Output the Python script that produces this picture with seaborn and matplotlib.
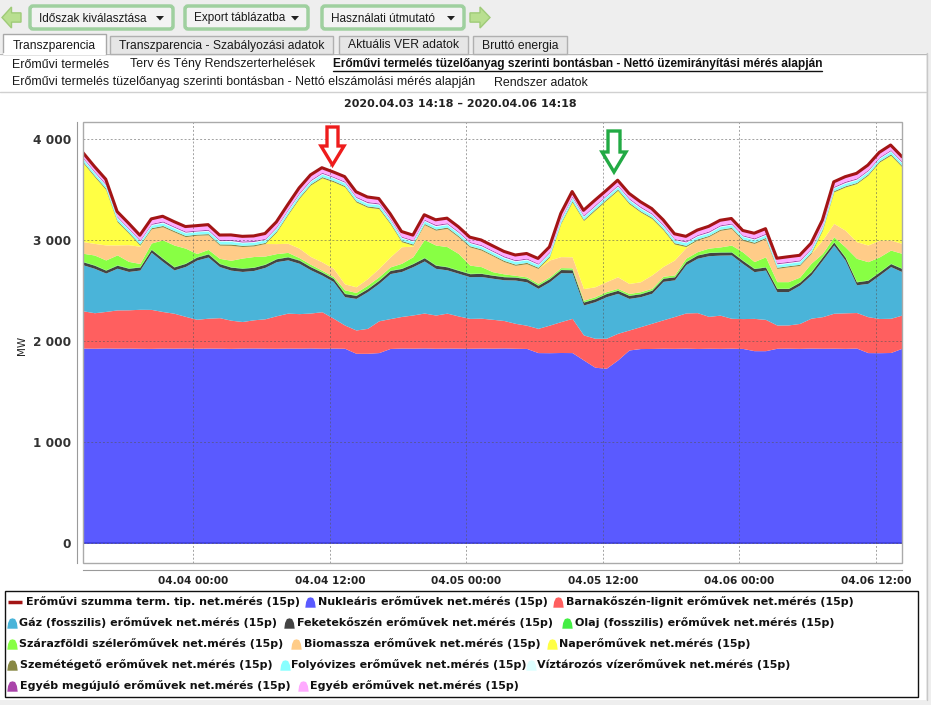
import numpy as np
import pandas as pd
import matplotlib
matplotlib.use('Agg')
import matplotlib.pyplot as plt
import matplotlib.dates as mdates
from matplotlib.patches import Rectangle, FancyBboxPatch, Polygon
from matplotlib.path import Path
from matplotlib.ticker import MultipleLocator, FuncFormatter
import seaborn as sns

# hourly samples, 2020.04.03 14:18 .. 2020.04.06 14:18 (MW)
nuclear = [1930, 1928, 1931, 1929, 1930, 1928, 1927, 1930, 1929, 1931, 1928, 1930,
           1929, 1927, 1930, 1931, 1929, 1928, 1930, 1929, 1931, 1928, 1930, 1928,
           1878, 1878, 1885, 1926, 1930, 1929, 1931, 1928, 1930, 1929, 1928, 1930,
           1929, 1931, 1928, 1926, 1885, 1884, 1886, 1885, 1812, 1740, 1730, 1812,
           1911, 1925, 1926, 1928, 1927, 1929, 1926, 1928, 1927, 1929, 1926, 1904,
           1904, 1928, 1929, 1927, 1930, 1928, 1929, 1927, 1930, 1885, 1884, 1886,
           1928]
lignite = [369, 352, 362, 379, 379, 386, 386, 362, 346, 313, 287, 296,
           302, 279, 263, 279, 291, 322, 346, 342, 346, 362, 296, 230,
           231, 247, 315, 296, 313, 329, 346, 329, 346, 319, 296, 296,
           286, 272, 247, 230, 240, 273, 306, 339, 248, 287, 297, 264,
           198, 217, 250, 282, 316, 349, 355, 316, 329, 296, 296, 320,
           310, 230, 230, 247, 296, 313, 346, 352, 352, 356, 339, 339,
           329]
gas = [456, 440, 380, 413, 380, 389, 566, 496, 429, 495, 587, 606,
       506, 496, 496, 489, 510, 536, 528, 499, 429, 363, 364, 281,
       313, 364, 371, 446, 446, 479, 516, 463, 429, 423, 413, 413,
       407, 404, 429, 430, 397, 430, 485, 452, 297, 362, 412, 396,
       313, 297, 297, 381, 363, 479, 539, 601, 595, 628, 545, 463,
       489, 331, 331, 380, 430, 561, 676, 522, 275, 330, 430, 512,
       430]
coal = [30, 31, 29, 30, 32, 30, 29, 31, 30, 30, 29, 31,
        30, 30, 32, 31, 30, 29, 30, 31, 30, 29, 30, 31,
        30, 29, 30, 31, 30, 30, 32, 31, 30, 29, 30, 31,
        30, 30, 29, 31, 30, 30, 31, 30, 29, 30, 31, 30,
        30, 29, 30, 31, 30, 30, 32, 31, 30, 29, 30, 31,
        30, 31, 30, 29, 30, 31, 30, 30, 29, 31, 30, 30,
        31]
oil = [4, 4, 4, 5, 4, 4, 3, 4, 4, 4, 5, 4,
       4, 4, 4, 3, 4, 4, 4, 5, 4, 4, 4, 4,
       4, 3, 4, 4, 4, 4, 5, 4, 4, 4, 4, 3,
       4, 4, 4, 4, 5, 4, 4, 4, 3, 4, 4, 4,
       4, 5, 4, 4, 4, 4, 3, 4, 4, 4, 4, 5,
       4, 4, 4, 3, 4, 4, 4, 5, 4, 4, 4, 4,
       4]
wind = [80, 97, 97, 97, 64, 31, 60, 179, 213, 147, 31, 40,
        48, 64, 97, 104, 78, 47, 40, 20, 20, 15, 15, 33,
        25, 31, 31, 31, 47, 64, 175, 196, 196, 163, 81, 64,
        31, 24, 14, 14, 14, 14, 15, 15, 15, 15, 15, 15,
        15, 15, 15, 15, 15, 30, 30, 40, 47, 64, 81, 64,
        97, 64, 64, 47, 80, 31, 48, 97, 229, 180, 146, 130,
        146]
biomass = [116, 115, 149, 99, 165, 171, 140, 130, 131, 114, 181, 145,
           131, 148, 114, 105, 124, 99, 90, 94, 77, 83, 82, 59,
           56, 66, 83, 99, 164, 105, 148, 147, 181, 164, 180, 164,
           158, 122, 99, 131, 148, 167, 109, 109, 115, 99, 99, 115,
           99, 99, 132, 98, 148, 105, 115, 115, 164, 164, 114, 180,
           180, 131, 147, 115, 98, 132, 132, 165, 165, 165, 165, 99,
           99]
solar = [781, 663, 549, 230, 115, 10, 0, 0, 0, 0, 0, 0,
         0, 0, 0, 0, 0, 115, 283, 494, 709, 833, 857, 963,
         841, 708, 593, 329, 50, 10, 0, 0, 0, 0, 0, 0,
         0, 0, 0, 0, 0, 30, 329, 544, 675, 758, 807, 857,
         791, 692, 560, 362, 158, 10, 0, 0, 0, 0, 0, 0,
         0, 0, 0, 0, 0, 98, 313, 428, 576, 692, 775, 841,
         758]
waste = [12, 12, 13, 12, 11, 12, 12, 13, 12, 12, 11, 12,
         12, 13, 12, 12, 11, 12, 12, 13, 12, 12, 12, 11,
         12, 12, 13, 12, 12, 11, 12, 12, 13, 12, 12, 12,
         11, 12, 12, 13, 12, 12, 11, 12, 12, 13, 12, 12,
         12, 11, 12, 12, 13, 12, 12, 11, 12, 12, 13, 12,
         12, 12, 11, 12, 12, 13, 12, 12, 11, 12, 12, 13,
         12]
runriver = [25, 24, 25, 26, 25, 24, 25, 25, 26, 25, 24, 25,
            25, 26, 25, 24, 25, 25, 26, 25, 24, 25, 25, 26,
            25, 24, 25, 25, 26, 25, 24, 25, 25, 26, 25, 24,
            25, 25, 26, 25, 24, 25, 25, 26, 25, 24, 25, 25,
            26, 25, 24, 25, 25, 26, 25, 24, 25, 25, 26, 25,
            24, 25, 25, 26, 25, 24, 25, 25, 26, 25, 24, 25,
            25]
reservoir = [8, 8, 9, 8, 7, 8, 8, 9, 8, 8, 7, 8,
             8, 9, 8, 8, 7, 8, 8, 9, 8, 8, 7, 8,
             8, 9, 8, 8, 7, 8, 8, 9, 8, 8, 7, 8,
             8, 9, 8, 8, 7, 8, 8, 9, 8, 8, 7, 8,
             8, 9, 8, 8, 7, 8, 8, 9, 8, 8, 7, 8,
             8, 9, 8, 8, 7, 8, 8, 9, 8, 8, 7, 8,
             8]
other_renew = [10, 10, 11, 10, 9, 10, 10, 11, 10, 10, 9, 10,
               10, 11, 10, 10, 9, 10, 10, 11, 10, 10, 9, 10,
               10, 11, 10, 10, 9, 10, 10, 11, 10, 10, 9, 10,
               10, 11, 10, 10, 9, 10, 10, 11, 10, 10, 9, 10,
               10, 11, 10, 10, 9, 10, 10, 11, 10, 10, 9, 10,
               10, 11, 10, 10, 9, 10, 10, 11, 10, 10, 9, 10,
               10]
other = [45, 46, 44, 45, 47, 45, 44, 46, 45, 45, 44, 46,
         45, 44, 46, 45, 47, 45, 44, 45, 46, 45, 44, 45,
         46, 45, 44, 45, 47, 45, 44, 46, 45, 45, 44, 46,
         45, 44, 46, 45, 47, 45, 44, 45, 46, 45, 44, 45,
         46, 45, 44, 45, 47, 45, 44, 46, 45, 45, 44, 46,
         45, 44, 46, 45, 47, 45, 44, 45, 46, 45, 44, 45,
         46]

layers = [nuclear, lignite, gas, coal, oil, wind, biomass, solar,
          waste, runriver, reservoir, other_renew, other]
layer_colors = ['#5a5aff', '#ff5f5f', '#4ab4d9', '#444444', '#44ee44', '#88ff44',
                '#ffcc88', '#ffff44', '#888844', '#88ffff', '#ddffff', '#aa44aa', '#ffaaff']
total_color = '#a31515'

legend_rows = [
    [('line', total_color, 'Erőművi szumma term. tip. net.mérés (15p)', 8, 26),
     ('mark', '#5a5aff', 'Nukleáris erőművek net.mérés (15p)', 310, 318),
     ('mark', '#ff5f5f', 'Barnakőszén-lignit erőművek net.mérés (15p)', 558, 566)],
    [('mark', '#4ab4d9', 'Gáz (fosszilis) erőművek net.mérés (15p)', 12, 19),
     ('mark', '#444444', 'Feketekőszén erőművek net.mérés (15p)', 289, 297),
     ('mark', '#44ee44', 'Olaj (fosszilis) erőművek net.mérés (15p)', 567, 575)],
    [('mark', '#88ff44', 'Szárazföldi szélerőművek net.mérés (15p)', 12, 19),
     ('mark', '#ffcc88', 'Biomassza erőművek net.mérés (15p)', 296, 304),
     ('mark', '#ffff44', 'Naperőművek net.mérés (15p)', 552, 559)],
    [('mark', '#888844', 'Szemétégető erőművek net.mérés (15p)', 12, 20),
     ('mark', '#88ffff', 'Folyóvizes erőművek net.mérés (15p)', 285, 291),
     ('mark', '#ddffff', 'Víztározós vízerőművek net.mérés (15p)', 531, 537)],
    [('mark', '#aa44aa', 'Egyéb megújuló erőművek net.mérés (15p)', 12, 20),
     ('mark', '#ffaaff', 'Egyéb erőművek net.mérés (15p)', 303, 310)],
]

times = pd.date_range('2020-04-03 14:18', periods=len(nuclear), freq='h')
total = np.sum(np.array(layers, dtype=float), axis=0)
tick_times = pd.to_datetime(['2020-04-04 00:00', '2020-04-04 12:00', '2020-04-05 00:00',
                             '2020-04-05 12:00', '2020-04-06 00:00', '2020-04-06 12:00'])

W, H = 931, 705
UI = ['Liberation Sans', 'DejaVu Sans']

sns.set_style('white')
plt.rcParams['font.family'] = ['DejaVu Sans']

fig = plt.figure(figsize=(W / 100, H / 100), dpi=100, facecolor='#eeeeee')

# ---- page background / toolbar / tabs
bg = fig.add_axes([0, 0, 1, 1])
bg.set_xlim(0, W)
bg.set_ylim(H, 0)
bg.axis('off')

bg.add_patch(Rectangle((0, 53), 926, 647, facecolor='white', edgecolor='none'))
bg.plot([0, 926], [53.5, 53.5], color='#b8b8b8', lw=1)
bg.plot([0, 926], [91.5, 91.5], color='#d0d0d0', lw=1)
bg.plot([926.5, 926.5], [53, 700], color='#c8c8c8', lw=1)


def txt(x, y, s, size=8.9, weight='normal', ha='left', family=UI, color='#1a1a1a', **kw):
    return bg.text(x, y, s, fontsize=size, fontweight=weight, ha=ha, va='center',
                   family=family, color=color, **kw)


def green_arrow(x0, x1, y0, y1, left):
    xm = x0 + (x1 - x0) * 0.5
    ym0, ym1 = y0 + (y1 - y0) * 0.28, y1 - (y1 - y0) * 0.28
    yc = (y0 + y1) / 2
    if left:
        pts = [(x0, yc), (xm, y0), (xm, ym0), (x1, ym0), (x1, ym1), (xm, ym1), (xm, y1)]
    else:
        pts = [(x1, yc), (xm, y0), (xm, ym0), (x0, ym0), (x0, ym1), (xm, ym1), (xm, y1)]
    bg.add_patch(Polygon(pts, closed=True, facecolor='#b9df90', edgecolor='#9fcb78', lw=1))


green_arrow(2, 21, 7, 28, True)
green_arrow(470, 490, 7, 28, False)

for bx0, bx1, label in [(30, 173, 'Időszak kiválasztása'),
                        (185, 308, 'Export táblázatba'),
                        (322, 464, 'Használati útmutató')]:
    bg.add_patch(FancyBboxPatch((bx0, 6), bx1 - bx0, 23,
                                boxstyle='round,pad=0,rounding_size=3',
                                facecolor='#f3f3f3', edgecolor='#9fd09f', lw=2.5))
    txt(bx0 + 9, 18.5, label, size=8.5)
    tx = bx1 - 13
    bg.add_patch(Polygon([(tx - 4, 16), (tx + 4, 16), (tx, 20.5)], closed=True,
                         facecolor='#222222', edgecolor='none'))

tabs = [(3, 106, 'Transzparencia', True),
        (110, 333, 'Transzparencia - Szabályozási adatok', False),
        (339, 468, 'Aktuális VER adatok', False),
        (473, 567, 'Bruttó energia', False)]
for tx0, tx1, label, active in tabs:
    if active:
        bg.add_patch(Rectangle((tx0, 34), tx1 - tx0, 20, facecolor='white',
                               edgecolor='#a8a8a8', lw=1, zorder=3))
        bg.plot([tx0 + 1, tx1 - 1], [53.5, 53.5], color='white', lw=1.5, zorder=4)
    else:
        bg.add_patch(Rectangle((tx0, 35.5), tx1 - tx0, 18, facecolor='#e6e6e6',
                               edgecolor='#b0b0b0', lw=1, zorder=2))
    txt((tx0 + tx1) / 2, 45.5, label, size=8.7, ha='center', zorder=5)

txt(12, 64.5, 'Erőművi termelés')
txt(130, 64.5, 'Terv és Tény Rendszerterhelések')
txt(333, 64.5, 'Erőművi termelés tüzelőanyag szerinti bontásban - Nettó üzemirányítási mérés alapján',
    size=8.55, weight='bold', color='#111111')
bg.plot([333, 822], [70.5, 70.5], color='#111111', lw=1)
txt(12, 82.5, 'Erőművi termelés tüzelőanyag szerinti bontásban - Nettó elszámolási mérés alapján')
txt(494, 82.5, 'Rendszer adatok')

txt(460, 104, '2020.04.03 14:18 – 2020.04.06 14:18', size=8, weight='bold',
    ha='center', family=['DejaVu Sans'], color='#222222')
txt(22, 345, 'MW', size=7.5, ha='center', family=['DejaVu Sans'], rotation=90, color='#222222')

# ---- legend
bg.add_patch(Rectangle((5, 590.5), 913, 106.5, facecolor='white', edgecolor='#111111', lw=1))
bell = Path([(-1, -1), (1, -1), (0.85, 0.1), (0.5, 0.85), (0, 1), (-0.5, 0.85),
             (-0.85, 0.1), (-1, -1)], closed=True)
for r, row in enumerate(legend_rows):
    yy = 601.5 + r * 21
    for kind, col, label, mx, tx in row:
        if kind == 'line':
            bg.plot([mx, mx + 14], [yy, yy], color=col, lw=2.5, solid_capstyle='butt')
        else:
            bg.plot([mx], [yy], marker=bell, markersize=7.5, color=col, markeredgewidth=0)
        txt(tx, yy, label, size=8, weight='bold', family=['DejaVu Sans'], color='#111111')

# ---- chart
ax = fig.add_axes([83 / W, 1 - 563 / H, 819 / W, 441 / H])
ax.set_facecolor('white')
ax.stackplot(times, *layers, colors=layer_colors, linewidth=0, zorder=1)
ax.axhline(0, color='#3c3ce0', lw=1.2, zorder=2)
sns.lineplot(x=times, y=total, ax=ax, color=total_color, lw=2.2, zorder=4, legend=False)

ax.set_xlim(times[0], times[-1])
ax.set_ylim(-200, 4170)
ax.set_xlabel('')
ax.set_ylabel('')

ax.set_xticks(tick_times)
ax.xaxis.set_major_formatter(mdates.DateFormatter('%m.%d %H:%M'))
ax.yaxis.set_major_locator(MultipleLocator(1000))
ax.yaxis.set_minor_locator(MultipleLocator(200))
ax.yaxis.set_major_formatter(FuncFormatter(lambda v, p: f'{int(v):,}'.replace(',', ' ')))

ax.set_axisbelow(False)
ax.grid(True, which='major', linestyle=(0, (2, 2)), color='#555555', lw=0.7, alpha=0.55)

for side in ['top', 'right']:
    ax.spines[side].set_visible(False)
ax.spines['left'].set_position(('outward', 4))
ax.spines['bottom'].set_position(('outward', 5))
ax.spines['left'].set_color('#9a9a9a')
ax.spines['bottom'].set_color('#9a9a9a')
ax.add_patch(Rectangle((0, 0), 1, 1, transform=ax.transAxes, fill=False,
                       edgecolor='#aaaaaa', lw=1, clip_on=False, zorder=6))

ax.tick_params(axis='y', which='major', length=3.5, width=0.8, color='#777777',
               labelsize=8.7, labelcolor='#333333', pad=1)
ax.tick_params(axis='y', which='minor', length=2.5, width=0.7, color='#888888')
ax.tick_params(axis='x', which='major', length=3, width=0.8, color='#999999',
               labelsize=7.6, labelcolor='#222222', pad=1.5)
for lab in ax.get_yticklabels() + ax.get_xticklabels():
    lab.set_fontweight('bold')

# ---- hollow marker arrows above the chart
ov = fig.add_axes([0, 0, 1, 1], zorder=10)
ov.set_xlim(0, W)
ov.set_ylim(H, 0)
ov.axis('off')
ov.patch.set_alpha(0)
ov.add_patch(Polygon([(327, 127), (338, 127), (338, 146), (344, 146), (332.5, 165),
                      (321, 146), (327, 146)], closed=True, facecolor='white',
                     edgecolor='#ee1c1c', lw=2.4, joinstyle='miter'))
ov.add_patch(Polygon([(608, 131), (620, 131), (620, 152), (626, 152), (614, 172),
                      (602, 152), (608, 152)], closed=True, facecolor='white',
                     edgecolor='#22aa44', lw=2.4, joinstyle='miter'))

fig.savefig('out.png', dpi=100, facecolor=fig.get_facecolor())
